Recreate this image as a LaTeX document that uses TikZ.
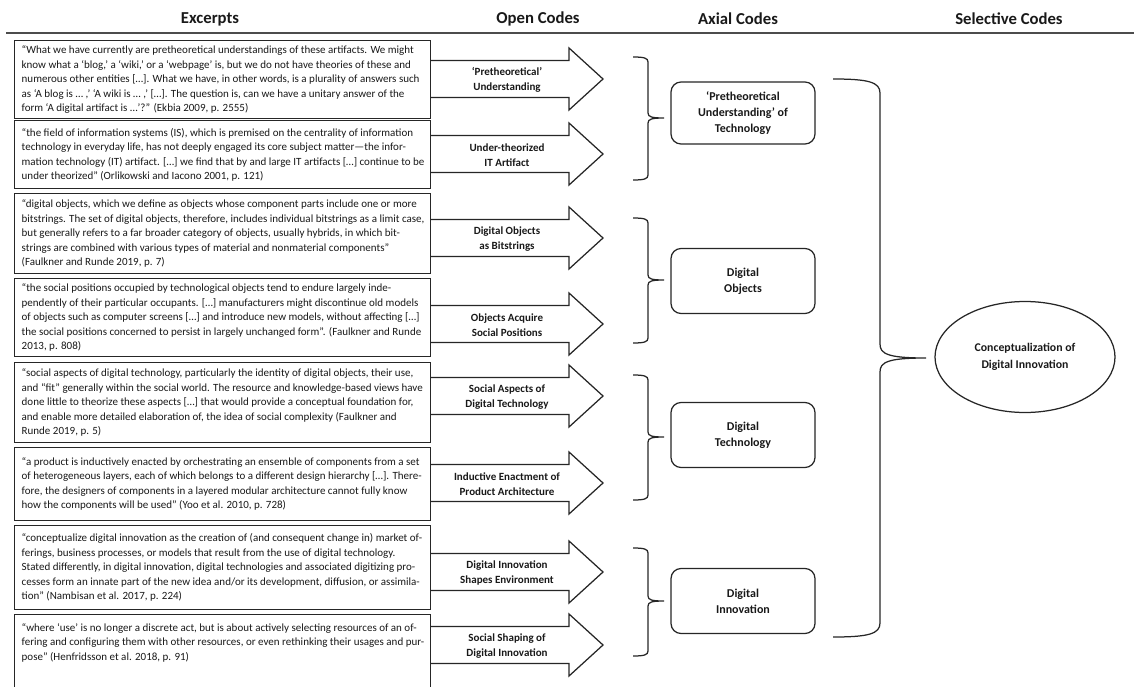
\documentclass[tikz,border=0pt]{standalone}
\usepackage{fontspec}
\setmainfont{Carlito}
\usetikzlibrary{calc,shapes.geometric}
\tikzset{
  ln/.style={draw=black!85, line width=1.25pt},
  exbox/.style={ln, fill=white, minimum width=416pt, anchor=north west, inner sep=0pt},
  extext/.style={align=left, font=\fontsize{11pt}{14.5pt}\selectfont, text=black!90, inner sep=0pt, anchor=west},
  oclabel/.style={align=center, font=\bfseries\fontsize{11pt}{15.5pt}\selectfont, text=black!90, inner sep=0pt},
  axbox/.style={ln, fill=white, rounded corners=10pt, minimum width=144pt, minimum height=65pt, align=center, inner sep=0pt, font=\bfseries\fontsize{12pt}{16pt}\selectfont, text=black!90},
  selnode/.style={ln, ellipse, minimum width=180pt, minimum height=111pt, align=center, inner sep=0pt, font=\bfseries\fontsize{11.8pt}{16.5pt}\selectfont, text=black!90},
  coltitle/.style={font=\bfseries\fontsize{16.7pt}{19pt}\selectfont, text=black!90, inner sep=0pt},
}
\newcommand\codearrow[3]{%
  \draw[ln, fill=white, line join=miter] (430,#2-18.5) -- (569,#2-18.5) -- (569,#2-31) -- (603,#2) -- (569,#2+31) -- (569,#2+18.5) -- (430,#2+18.5);
  \node[oclabel] (#1) at (507,#2+1) {#3};
}
\newcommand\codebrace[4]{%
  \coordinate (#1) at (664,#3);
  \draw[ln] (633,#2) .. controls (644,#2) and (648,#2+1) .. (648,#2+5) -- (648,#3-5) .. controls (648,#3-1) and (652,#3) .. (#1) .. controls (652,#3) and (648,#3+1) .. (648,#3+5) -- (648,#4-5) .. controls (648,#4-1) and (644,#4) .. (633,#4);
}
\begin{document}
\begin{tikzpicture}[x=1pt,y=-1pt]
\useasboundingbox (0,0) rectangle (1134,687);
\clip (0,0) rectangle (1134,687);

% titles
\node[coltitle] (h1) at (210,19) {Excerpts};
\node[coltitle] (h2) at (538,19) {Open Codes};
\node[coltitle] (h3) at (738,19) {Axial Codes};
\node[coltitle] (h4) at (1009,19) {Selective Codes};
\draw[draw=black!70, line width=1.4pt] (6,33) -- (1134,33);

% open-code arrows
\codearrow{o1}{79}{‘Pretheoretical’\\Understanding}
\codearrow{o2}{154}{Under-theorized\\IT Artifact}
\codearrow{o3}{238}{Digital Objects\\as Bitstrings}
\codearrow{o4}{324}{Objects Acquire\\Social Positions}
\codearrow{o5}{396}{Social Aspects of\\Digital Technology}
\codearrow{o6}{483}{Inductive Enactment of\\Product Architecture}
\codearrow{o7}{572}{Digital Innovation\\Shapes Environment}
\codearrow{o8}{645}{Social Shaping of\\Digital Innovation}

% excerpt boxes
\node[exbox, minimum height=78pt] (e1) at (14,40) {};
\node[extext] (x1) at ($(e1.west)+(7.5,0)$) {“What we have currently are pretheoretical understandings of these artifacts. We might\\know what a ‘blog,’ a ‘wiki,’ or a ‘webpage’ is, but we do not have theories of these and\\numerous other entities […]. What we have, in other words, is a plurality of answers such\\as ‘A blog is … ,’ ‘A wiki is … ,’ […]. The question is, can we have a unitary answer of the\\form ‘A digital artifact is …’?” (Ekbia 2009, p. 2555)};

\node[exbox, minimum height=68pt] (e2) at (14,120) {};
\node[extext] (x2) at ($(e2.west)+(7.5,0)$) {“the field of information systems (IS), which is premised on the centrality of information\\technology in everyday life, has not deeply engaged its core subject matter—the infor-\\mation technology (IT) artifact. […] we find that by and large IT artifacts […] continue to be\\under theorized” (Orlikowski and Iacono 2001, p. 121)};

\node[exbox, minimum height=80pt] (e3) at (14,193) {};
\node[extext] (x3) at ($(e3.west)+(7.5,0)$) {“digital objects, which we define as objects whose component parts include one or more\\bitstrings. The set of digital objects, therefore, includes individual bitstrings as a limit case,\\but generally refers to a far broader category of objects, usually hybrids, in which bit-\\strings are combined with various types of material and nonmaterial components”\\(Faulkner and Runde 2019, p. 7)};

\node[exbox, minimum height=78pt] (e4) at (14,278) {};
\node[extext] (x4) at ($(e4.west)+(7.5,0)$) {“the social positions occupied by technological objects tend to endure largely inde-\\pendently of their particular occupants. […] manufacturers might discontinue old models\\of objects such as computer screens […] and introduce new models, without affecting […]\\the social positions concerned to persist in largely unchanged form”. (Faulkner and Runde\\2013, p. 808)};

\node[exbox, minimum height=80pt] (e5) at (14,362) {};
\node[extext] (x5) at ($(e5.west)+(7.5,0)$) {“social aspects of digital technology, particularly the identity of digital objects, their use,\\and “fit” generally within the social world. The resource and knowledge-based views have\\done little to theorize these aspects […] that would provide a conceptual foundation for,\\and enable more detailed elaboration of, the idea of social complexity (Faulkner and\\Runde 2019, p. 5)};

\node[exbox, minimum height=73pt] (e6) at (14,447) {};
\node[extext] (x6) at ($(e6.west)+(7.5,0)$) {“a product is inductively enacted by orchestrating an ensemble of components from a set\\of heterogeneous layers, each of which belongs to a different design hierarchy […]. There-\\fore, the designers of components in a layered modular architecture cannot fully know\\how the components will be used” (Yoo et al. 2010, p. 728)};

\node[exbox, minimum height=84pt] (e7) at (14,525) {};
\node[extext] (x7) at ($(e7.west)+(7.5,0)$) {“conceptualize digital innovation as the creation of (and consequent change in) market of-\\ferings, business processes, or models that result from the use of digital technology.\\Stated differently, in digital innovation, digital technologies and associated digitizing pro-\\cesses form an innate part of the new idea and/or its development, diffusion, or assimila-\\tion” (Nambisan et al. 2017, p. 224)};

\node[exbox, minimum height=100pt] (e8) at (14,614) {};
\node[extext, anchor=north west] (x8) at ($(e8.north west)+(7.5,9)$) {“where ‘use’ is no longer a discrete act, but is about actively selecting resources of an of-\\fering and configuring them with other resources, or even rethinking their usages and pur-\\pose” (Henfridsson et al. 2018, p. 91)};

% braces to axial codes
\codebrace{b1}{57}{118}{180}
\codebrace{b2}{218}{280}{343}
\codebrace{b3}{375}{437}{500}
\codebrace{b4}{548}{601}{656}

\node[axbox, minimum height=62pt] (a1) at (743,113) {‘Pretheoretical\\Understanding’ of\\Technology};
\node[axbox] (a2) at (743,281) {Digital\\Objects};
\node[axbox] (a3) at (743,435) {Digital\\Technology};
\node[axbox] (a4) at (743,601) {Digital\\Innovation};

% selective code
\node[selnode] (s1) at (1025,357) {Conceptualization of\\Digital Innovation};
\coordinate (bt) at (926,358);
\draw[ln] (833,79) .. controls (868,79) and (880,82) .. (880,93) -- (880,344) .. controls (880,354) and (888,358) .. (bt) .. controls (888,358) and (880,362) .. (880,372) -- (880,623) .. controls (880,634) and (868,637) .. (833,637);
\end{tikzpicture}
\end{document}
